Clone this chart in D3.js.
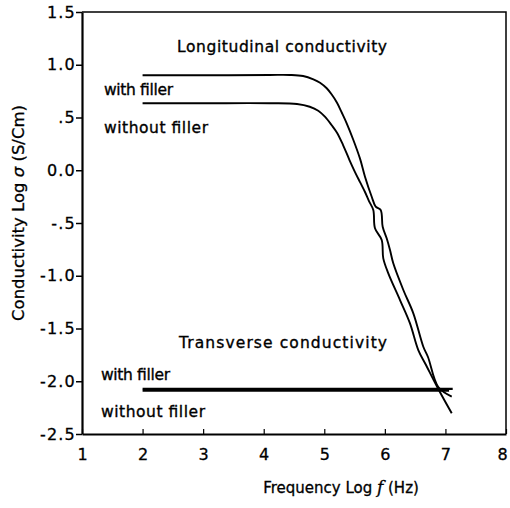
<!DOCTYPE html>
<html>
<head>
<meta charset="utf-8">
<script src="https://cdn.jsdelivr.net/npm/d3@7.9.0/dist/d3.min.js"></script>
<style>
  body { margin: 0; background: #fff; }
  svg { display: block; font-family: "DejaVu Sans", Arial, sans-serif; }
  .axis path, .axis line { stroke: #000; }
  .axis text { font-family: "DejaVu Sans", Arial, sans-serif; fill: #000; }
</style>
</head>
<body>
<svg id="chart" width="510" height="508"></svg>
<script>
// longitudinal conductivity, with filler (log f, log sigma)
const longWithX = [2.0, 3.0, 4.10, 4.43, 4.65, 4.82, 4.93, 5.04, 5.12, 5.21, 5.29, 5.37, 5.48, 5.59, 5.672, 5.783, 5.849, 5.931, 5.964, 6.030, 6.085, 6.139, 6.305, 6.470, 6.635, 6.712, 6.882, 7.104];
const longWithY = [0.90, 0.90, 0.903, 0.903, 0.893, 0.862, 0.830, 0.777, 0.720, 0.640, 0.545, 0.445, 0.287, 0.110, -0.061, -0.251, -0.345, -0.377, -0.535, -0.645, -0.756, -0.882, -1.135, -1.356, -1.673, -1.770, -2.055, -2.146];
// longitudinal conductivity, without filler
const longWithoutX = [2.0, 3.0, 4.10, 4.55, 4.76, 4.90, 5.01, 5.12, 5.21, 5.31, 5.416, 5.507, 5.590, 5.672, 5.738, 5.809, 5.837, 5.948, 5.974, 6.057, 6.250, 6.415, 6.552, 6.679, 6.882, 7.104];
const longWithoutY = [0.635, 0.635, 0.635, 0.628, 0.602, 0.564, 0.508, 0.429, 0.356, 0.239, 0.097, -0.017, -0.112, -0.206, -0.292, -0.377, -0.550, -0.661, -0.835, -0.977, -1.230, -1.451, -1.704, -1.846, -2.074, -2.304];
// transverse conductivity
const transWithX = [2.0, 7.12];
const transWithY = [-2.072, -2.072];
const transWithoutX = [2.0, 7.06];
const transWithoutY = [-2.09, -2.09];

const xTicks = [1, 2, 3, 4, 5, 6, 7, 8];
const yTicks = [-2.5, -2.0, -1.5, -1.0, -0.5, 0.0, 0.5, 1.0, 1.5];
const yTickLabels = ["-2.5", "-2.0", "-1.5", "-1.0", "-.5", "0.0", ".5", "1.0", "1.5"];

const svg = d3.select("#chart");
const margin = { top: 12, right: 4, bottom: 74, left: 82 };
const width = 510 - margin.left - margin.right;
const height = 508 - margin.top - margin.bottom;

const x = d3.scaleLinear().domain([1, 8]).range([margin.left, margin.left + width]);
const y = d3.scaleLinear().domain([-2.5, 1.5]).range([margin.top + height, margin.top]);

// frame: thinner top and right
svg.append("path")
  .attr("d", `M${x(1)},${y(1.5)}H${x(8)}V${y(-2.5)}`)
  .attr("fill", "none")
  .attr("stroke", "#000")
  .attr("stroke-width", 1.5);

const yAxis = svg.append("g")
  .attr("class", "axis")
  .attr("transform", `translate(${margin.left},0)`)
  .call(d3.axisLeft(y)
    .tickValues(yTicks)
    .tickFormat((d, i) => yTickLabels[i])
    .tickSize(6)
    .tickSizeOuter(0)
    .tickPadding(0));
yAxis.select(".domain").attr("stroke-width", 2.2);
yAxis.selectAll(".tick line").attr("stroke-width", 1.5);
yAxis.selectAll("text")
  .style("font-size", "16px")
  .style("letter-spacing", "1.2px")
  .attr("stroke", "#000").attr("stroke-width", 0.3);

const xAxis = svg.append("g")
  .attr("class", "axis")
  .attr("transform", `translate(0,${margin.top + height})`)
  .call(d3.axisBottom(x)
    .tickValues(xTicks)
    .tickFormat(d3.format("d"))
    .tickSize(-5)
    .tickSizeOuter(0)
    .tickPadding(15));
xAxis.select(".domain").attr("stroke-width", 2.2);
xAxis.selectAll(".tick line").attr("stroke-width", 1.2);
xAxis.selectAll("text")
  .style("font-size", "16px")
  .attr("stroke", "#000").attr("stroke-width", 0.3)
  .attr("dx", d => d === 8 ? -4 : 0);

const line = d3.line()
  .x(d => x(d[0]))
  .y(d => y(d[1]))
  .curve(d3.curveCatmullRom.alpha(0.5));

function draw(xs, ys, w) {
  svg.append("path")
    .datum(d3.zip(xs, ys))
    .attr("d", line)
    .attr("fill", "none")
    .attr("stroke", "#000")
    .attr("stroke-width", w)
    .attr("stroke-linejoin", "round");
}
draw(longWithX, longWithY, 1.9);
draw(longWithoutX, longWithoutY, 1.9);
draw(transWithX, transWithY, 2.2);
draw(transWithoutX, transWithoutY, 2.2);

// annotations
const labels = [
  { t: "Longitudinal conductivity", x: 177, y: 52, w: 210 },
  { t: "with filler", x: 104, y: 95, w: 69 },
  { t: "without filler", x: 104, y: 133, w: 104 },
  { t: "Transverse conductivity", x: 179, y: 348, w: 208 },
  { t: "with filler", x: 101, y: 380, w: 69 },
  { t: "without filler", x: 101, y: 417, w: 104 }
];
svg.selectAll(".ann")
  .data(labels)
  .join("text")
  .attr("class", "ann")
  .attr("x", d => d.x)
  .attr("y", d => d.y)
  .attr("font-size", 15.5)
  .attr("stroke", "#000")
  .attr("stroke-width", 0.35)
  .attr("textLength", d => d.w)
  .attr("lengthAdjust", "spacing")
  .text(d => d.t);

// axis titles
const xt = svg.append("text")
  .attr("x", 341)
  .attr("y", 493)
  .attr("text-anchor", "middle")
  .attr("font-size", 15)
  .attr("stroke", "#000")
  .attr("stroke-width", 0.3);
xt.append("tspan").text("Frequency Log ");
xt.append("tspan").attr("font-style", "italic").attr("font-family", "'DejaVu Serif', serif").attr("font-size", 17).text("f");
xt.append("tspan").text(" (Hz)");

const yt = svg.append("text")
  .attr("transform", "translate(24,213) rotate(-90)")
  .attr("text-anchor", "middle")
  .attr("font-size", 16.5)
  .attr("stroke", "#000")
  .attr("stroke-width", 0.3);
yt.append("tspan").text("Conductivity Log ");
yt.append("tspan").attr("font-style", "italic").text("σ");
yt.append("tspan").text(" (S/Cm)");
</script>
</body>
</html>
